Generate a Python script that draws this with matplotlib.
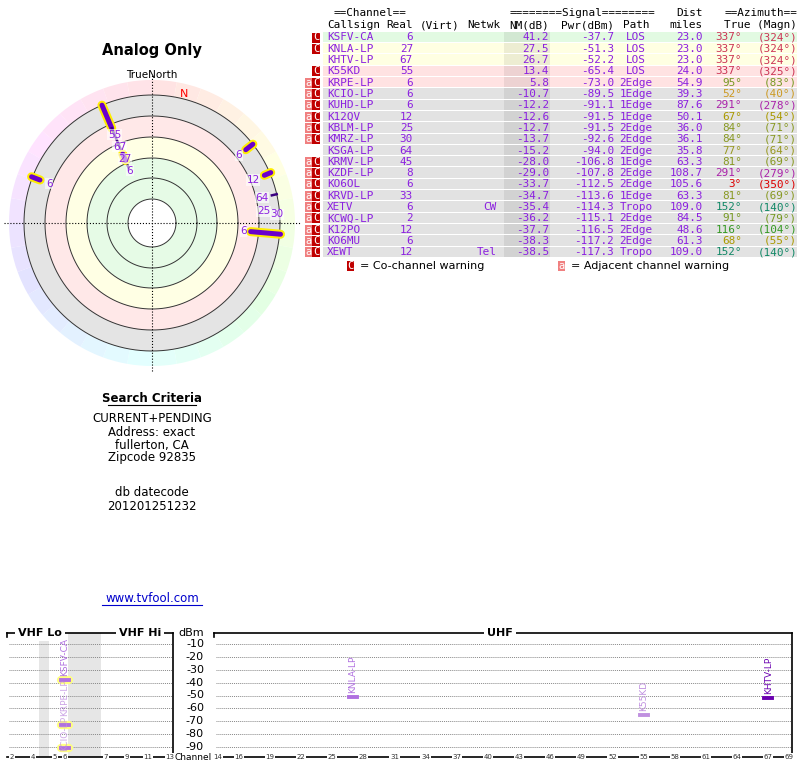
import matplotlib.pyplot as plt
import numpy as np
import colorsys
from matplotlib.patches import Wedge, Rectangle

W, H = 800, 768
fig = plt.figure(figsize=(8, 7.68), dpi=100)
purple = "#8b1fe0"
mono = "DejaVu Sans Mono"
fs = 7.9

# tabla de estaciones: callsign, real, netwk, nm, pwr, path, dist, true, magn, warn, color azimut
rows = [
    ("KSFV-CA", 6, "", 41.2, -37.7, "LOS", 23.0, 337, 324, "C", "#cc3355"),
    ("KNLA-LP", 27, "", 27.5, -51.3, "LOS", 23.0, 337, 324, "C", "#cc3355"),
    ("KHTV-LP", 67, "", 26.7, -52.2, "LOS", 23.0, 337, 324, "", "#cc3355"),
    ("K55KD", 55, "", 13.4, -65.4, "LOS", 24.0, 337, 325, "C", "#cc3355"),
    ("KRPE-LP", 6, "", 5.8, -73.0, "2Edge", 54.9, 95, 83, "aC", "#779922"),
    ("KCIO-LP", 6, "", -10.7, -89.5, "1Edge", 39.3, 52, 40, "aC", "#cc9922"),
    ("KUHD-LP", 6, "", -12.2, -91.1, "1Edge", 87.6, 291, 278, "aC", "#aa22aa"),
    ("K12QV", 12, "", -12.6, -91.5, "1Edge", 50.1, 67, 54, "aC", "#aa9900"),
    ("KBLM-LP", 25, "", -12.7, -91.5, "2Edge", 36.0, 84, 71, "aC", "#889922"),
    ("KMRZ-LP", 30, "", -13.7, -92.6, "2Edge", 36.1, 84, 71, "aC", "#889922"),
    ("KSGA-LP", 64, "", -15.2, -94.0, "2Edge", 35.8, 77, 64, "", "#999922"),
    ("KRMV-LP", 45, "", -28.0, -106.8, "1Edge", 63.3, 81, 69, "aC", "#889922"),
    ("KZDF-LP", 8, "", -29.0, -107.8, "2Edge", 108.7, 291, 279, "aC", "#aa22aa"),
    ("KO6OL", 6, "", -33.7, -112.5, "2Edge", 105.6, 3, 350, "aC", "#dd0000"),
    ("KRVD-LP", 33, "", -34.7, -113.6, "1Edge", 63.3, 81, 69, "aC", "#889922"),
    ("XETV", 6, "CW", -35.4, -114.3, "Tropo", 109.0, 152, 140, "aC", "#118866"),
    ("KCWQ-LP", 2, "", -36.2, -115.1, "2Edge", 84.5, 91, 79, "aC", "#779922"),
    ("K12PO", 12, "", -37.7, -116.5, "2Edge", 48.6, 116, 104, "aC", "#339922"),
    ("KO6MU", 6, "", -38.3, -117.2, "2Edge", 61.3, 68, 55, "aC", "#aa9900"),
    ("XEWT", 12, "Tel", -38.5, -117.3, "Tropo", 109.0, 152, 140, "aC", "#118866"),
]
bg = ["#e2fae2"] + ["#ffffe2"] * 2 + ["#ffe2e2"] * 2 + ["#e2e2e2"] * 15

# fondo de la tabla
tab = fig.add_axes([0, 0, 1, 1], zorder=0)
tab.set_xlim(0, W)
tab.set_ylim(H, 0)
tab.axis("off")
y0, dy = 37.5, 11.3
for i, r in enumerate(rows):
    y = y0 + i * dy
    tab.add_patch(Rectangle((323, y - dy / 2), 474, dy - 1, color=bg[i], lw=0))
    tab.add_patch(Rectangle((504, y - dy / 2), 46, dy - 1, color="black", alpha=0.07, lw=0))
    if "C" in r[9]:
        tab.add_patch(Rectangle((312, y - 5), 8, 10, color="#c00000", lw=0))
        tab.text(316, y, "C", color="white", ha="center", va="center", family=mono, fontsize=7.5)
    if "a" in r[9]:
        tab.add_patch(Rectangle((305, y - 5), 7, 10, color="#f08080", lw=0))
        tab.text(308.5, y, "a", color="white", ha="center", va="center", family=mono, fontsize=7.5)
    kw = dict(va="center", family=mono, fontsize=fs, color=purple)
    tab.text(327, y, r[0], ha="left", **kw)
    tab.text(413, y, str(r[1]), ha="right", **kw)
    tab.text(497, y, r[2], ha="right", **kw)
    tab.text(549, y, "%.1f" % r[3], ha="right", **kw)
    tab.text(614, y, "%.1f" % r[4], ha="right", **kw)
    tab.text(636, y, r[5], ha="center", **kw)
    tab.text(703, y, "%.1f" % r[6], ha="right", **kw)
    kw["color"] = r[10]
    tab.text(742, y, "%d°" % r[7], ha="right", **kw)
    tab.text(797, y, "(%d°)" % r[8], ha="right", **kw)

hk = dict(va="center", family=mono, fontsize=fs, color="black")
tab.text(370, 13, "==Channel==", ha="center", **hk)
tab.text(582, 13, "========Signal========", ha="center", **hk)
tab.text(703, 13, "Dist", ha="right", **hk)
tab.text(797, 13, "==Azimuth==", ha="right", **hk)
tab.text(327, 25, "Callsign", ha="left", **hk)
tab.text(413, 25, "Real", ha="right", **hk)
tab.text(420, 25, "(Virt)", ha="left", **hk)
tab.text(500, 25, "Netwk", ha="right", **hk)
tab.text(549, 25, "NM(dB)", ha="right", **hk)
tab.text(614, 25, "Pwr(dBm)", ha="right", **hk)
tab.text(636, 25, "Path", ha="center", **hk)
tab.text(703, 25, "miles", ha="right", **hk)
tab.text(797, 25, "True (Magn)", ha="right", **hk)

# leyenda de avisos
tab.add_patch(Rectangle((347, 261), 7, 10, color="#c00000", lw=0))
tab.text(350.5, 266, "C", color="white", ha="center", va="center", family=mono, fontsize=7.5)
tab.text(360, 266, "= Co-channel warning", ha="left", va="center", family="DejaVu Sans", fontsize=8)
tab.add_patch(Rectangle((558, 261), 7, 10, color="#f08080", lw=0))
tab.text(561.5, 266, "a", color="white", ha="center", va="center", family=mono, fontsize=7.5)
tab.text(571, 266, "= Adjacent channel warning", ha="left", va="center", family="DejaVu Sans", fontsize=8)

# textos de la izquierda
tab.text(152, 50, "Analog Only", ha="center", va="center", fontsize=10.5, weight="bold")
tab.text(152, 75, "TrueNorth", ha="center", va="center", fontsize=7.5)
tab.text(152, 398, "Search Criteria", ha="center", va="center", fontsize=8.5, weight="bold")
tab.plot([108, 196], [405, 405], color="black", lw=0.8)
for t, yy in [("CURRENT+PENDING", 419), ("Address: exact", 432), ("fullerton, CA", 445),
              ("Zipcode 92835", 458), ("db datecode", 493), ("201201251232", 506)]:
    tab.text(152, yy, t, ha="center", va="center", fontsize=8.5)
tab.text(152, 598, "www.tvfool.com", ha="center", va="center", fontsize=8.5, color="#0000cc")
tab.plot([102, 202], [605, 605], color="#0000cc", lw=0.8)

# grafico polar
ax = fig.add_axes([2 / W, 395 / H, 300 / W, 300 / H], zorder=1)
ax.set_xlim(-150, 150)
ax.set_ylim(-150, 150)
ax.set_aspect("equal")
ax.axis("off")
for a in range(0, 360, 10):
    h = (a / 360.0) % 1.0
    c = colorsys.hsv_to_rgb(h, 0.11, 1.0)
    ax.add_patch(Wedge((0, 0), 143, 90 - a - 10, 90 - a, width=15, color=c, lw=0))
zones = [(128, 21, "#e4e4e4"), (107, 21, "#ffe8e8"), (86, 21, "#ffffe4"), (65, 41, "#e6fbe6"), (24, 24, "white")]
for r0, w, c in zones:
    ax.add_patch(Wedge((0, 0), r0, 0, 360, width=w, color=c, lw=0))
t = np.linspace(0, 2 * np.pi, 300)
for rc in [24, 45, 65, 86, 107, 128]:
    ax.plot(rc * np.cos(t), rc * np.sin(t), color="#333333", lw=0.7)
ax.plot([-148, 148], [0, 0], color="black", lw=0.8, ls=":")
ax.plot([0, 0], [-148, 148], color="black", lw=0.8, ls=":")
ax.text(133 * np.sin(np.radians(14)), 133 * np.cos(np.radians(14)), "N", color="red",
        ha="center", va="center", fontsize=8)

# azimut, radio interior, radio exterior, resaltado, etiqueta, radio etiqueta
segs = [
    (337, 103, 128, True, "", 0),
    (337, 60, 103, False, "55", 96),
    (337, 0, 0, False, "67", 83),
    (337, 68, 75, True, "27", 70),
    (337, 0, 0, False, "6", 57),
    (52, 119, 128, True, "6", 110),
    (67, 122, 129, True, "12", 110),
    (77, 123, 128, False, "64", 113),
    (84, 0, 0, False, "25", 112),
    (86, 0, 0, False, "30", 125),
    (95, 99, 129, True, "6", 92),
    (291, 120, 129, True, "6", 110),
]
for az, ri, ro, hi, lab, rl in segs:
    s, c = np.sin(np.radians(az)), np.cos(np.radians(az))
    if ro > 0:
        if hi:
            ax.plot([ri * s, ro * s], [ri * c, ro * c], color="#ffee00", lw=6.5, solid_capstyle="round")
            ax.plot([ri * s, ro * s], [ri * c, ro * c], color="#6a00cc", lw=3.6, solid_capstyle="round")
        else:
            ax.plot([ri * s, ro * s], [ri * c, ro * c], color="#3a0080", lw=1.8)
    if lab:
        ax.text(rl * s, rl * c, lab, color=purple, ha="center", va="center", fontsize=7.5,
                bbox=dict(boxstyle="square,pad=0.05", fc="white", ec="none", alpha=0.6))

# espectro
sp = fig.add_axes([0, 8 / H, 1, 129 / H], zorder=1)
sp.set_xlim(0, W)
sp.set_ylim(-100, 0)
sp.axis("off")
vhf_x = {2: 12, 3: 22, 4: 33, 5: 55, 6: 65, 7: 106, 8: 116, 9: 127, 10: 137, 11: 148, 12: 158, 13: 170}
def chx(ch):
    return vhf_x[ch] if ch < 14 else 218 + (ch - 14) * 10.38
top, bot = -1.5, -97.7
sp.add_patch(Rectangle((39, bot), 10, top - bot, color="#e6e6e6", lw=0))
sp.add_patch(Rectangle((68, bot), 33, top - bot, color="#e6e6e6", lw=0))
for lev in range(-10, -100, -10):
    sp.plot([9, 172], [lev, lev], color="#888888", lw=0.7, ls=(0, (1, 1)))
    sp.plot([216, 791], [lev, lev], color="#888888", lw=0.7, ls=(0, (1, 1)))
    sp.text(204, lev, str(lev), ha="right", va="center", fontsize=8)
sp.text(204, top, "dBm", ha="right", va="center", fontsize=8)
sp.text(212, bot, "Channel", ha="right", va="center", fontsize=6.5)
for x0, x1, ts in [(7, 173, [(40, "VHF Lo"), (140, "VHF Hi")]), (214, 792, [(500, "UHF")])]:
    sp.plot([x0, x1], [top, top], color="black", lw=1.2)
    sp.plot([x0, x0], [top, top - 3], color="black", lw=1.2)
    sp.plot([x1, x1], [top, bot], color="black", lw=1.2)
    sp.plot([x0, x1], [bot, bot], color="black", lw=1.2)
    for xt, tt in ts:
        sp.text(xt, top, tt, ha="center", va="center", fontsize=8, weight="bold",
                bbox=dict(boxstyle="square,pad=0.3", fc="white", ec="none"))
for ch in [2, 4, 5, 6, 7, 9, 11, 13, 14, 16, 19, 22, 25, 28, 31, 34, 37, 40, 43, 46, 49, 52, 55, 58, 61, 64, 67, 69]:
    sp.text(chx(ch), bot, str(ch), ha="center", va="center", fontsize=5, color="#333333",
            bbox=dict(boxstyle="square,pad=0.1", fc="white", ec="none"))

# barras: canal, dBm, resaltado, color, etiqueta
bars = [
    (6, -37.7, True, "#b070e0", "KSFV-CA"),
    (6, -73.0, True, "#b070e0", "KRPE-LP"),
    (6, -90.5, True, "#b070e0", "KCIO-LP"),
    (27, -51.3, False, "#b070e0", "KNLA-LP"),
    (55, -65.4, False, "#c090e0", "K55KD"),
    (67, -52.2, False, "#6a00b0", "KHTV-LP"),
]
for ch, lev, hi, col, lab in bars:
    x = chx(ch)
    if hi:
        sp.plot([x - 4, x + 4], [lev, lev], color="#ffff80", lw=6, solid_capstyle="round")
    sp.plot([x - 4, x + 4], [lev, lev], color=col, lw=2.8)
    if lab in ("KSFV-CA", "KNLA-LP", "K55KD", "KHTV-LP"):
        sp.text(x, lev + 3, lab, rotation=90, ha="center", va="bottom", fontsize=6.5, color=col)
sp.text(chx(6), -93, "KCIO-LP", rotation=90, ha="center", va="bottom", fontsize=6.5, color="#c090e0", alpha=0.8)
sp.text(chx(6), -66, "KRPE-LP", rotation=90, ha="center", va="bottom", fontsize=6.5, color="#c090e0", alpha=0.8)

plt.savefig("out.png", dpi=100)
